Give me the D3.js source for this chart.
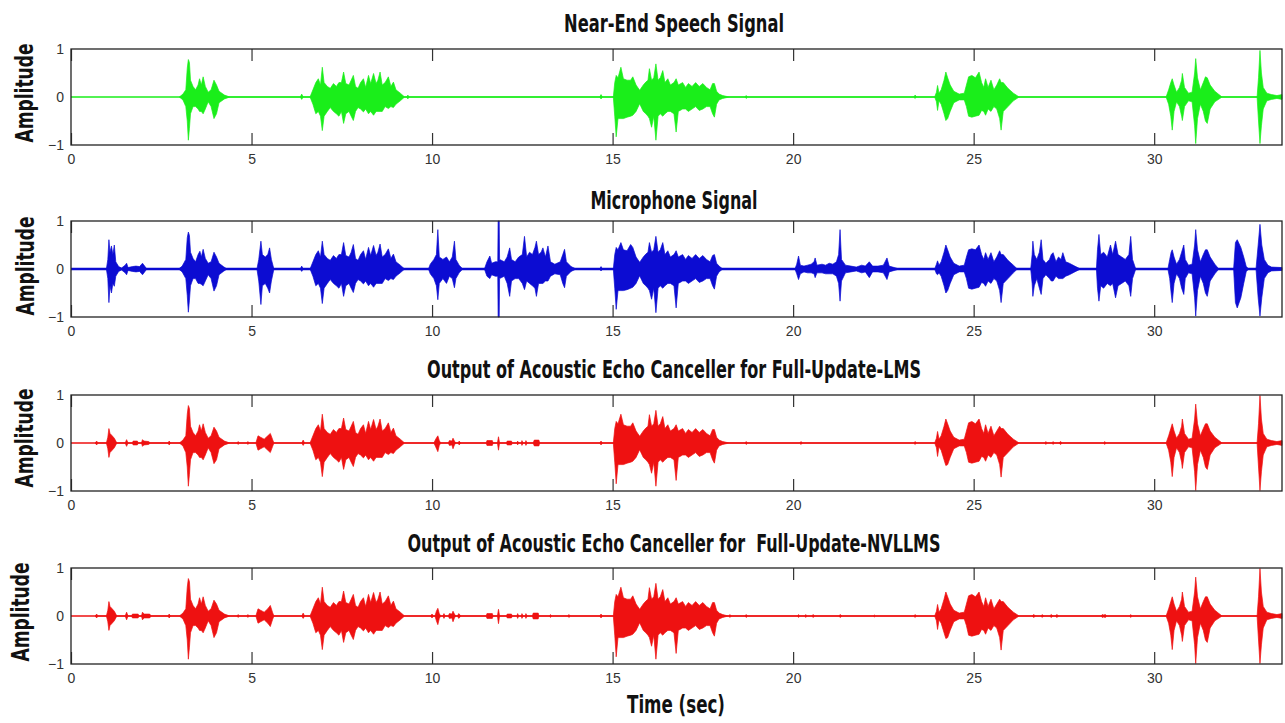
<!DOCTYPE html>
<html>
<head>
<meta charset="utf-8">
<script src="https://cdn.jsdelivr.net/npm/d3@7"></script>
<style>
  body { margin: 0; background: #fff; }
  .title, .ylab, .xlab { font-family: 'Liberation Sans Narrow', 'DejaVu Sans Condensed', 'DejaVu Sans', sans-serif; font-weight: bold; font-stretch: condensed; fill: #111; white-space: pre; }
  .tick line { stroke: #333; stroke-width: 1.2; }
</style>
</head>
<body>
<div id="wrapper"></div>
<script>
// axis ticks and titles
const xTicks = [0, 5, 10, 15, 20, 25, 30];
const yTicks = [-1, 0, 1];
const titles = [
  'Near-End Speech Signal',
  'Microphone Signal',
  'Output of Acoustic Echo Canceller for Full-Update-LMS',
  'Output of Acoustic Echo Canceller for  Full-Update-NVLLMS'
];

// envelopes: [time (s), upper amplitude, lower amplitude (magnitude)]
const nearEnd = [
  [3.00,0,0],[3.10,0.06,0.06],[3.18,0.15,0.2],[3.22,0.6,0.5],[3.25,0.78,0.9],[3.28,0.72,0.65],[3.31,0.35,0.35],[3.38,0.22,0.2],[3.45,0.15,0.2],[3.52,0.25,0.25],[3.56,0.38,0.3],[3.61,0.25,0.3],[3.66,0.42,0.35],[3.72,0.22,0.25],[3.80,0.1,0.1],[3.88,0.15,0.2],[3.96,0.35,0.45],[4.03,0.25,0.35],[4.10,0.12,0.12],[4.25,0.04,0.04],[4.40,0,0],
  [6.35,0,0],[6.39,0.06,0.05],[6.43,0,0],
  [6.62,0,0],[6.70,0.15,0.15],[6.78,0.3,0.35],[6.85,0.38,0.3],[6.91,0.25,0.4],[6.96,0.62,0.7],[7.01,0.3,0.4],[7.10,0.22,0.3],[7.18,0.18,0.22],[7.27,0.28,0.3],[7.35,0.22,0.35],[7.42,0.3,0.4],[7.49,0.3,0.3],[7.55,0.52,0.55],[7.61,0.28,0.35],[7.70,0.25,0.3],[7.76,0.35,0.4],[7.82,0.45,0.49],[7.88,0.22,0.3],[7.95,0.18,0.22],[8.02,0.3,0.25],[8.10,0.38,0.31],[8.16,0.2,0.25],[8.24,0.45,0.35],[8.30,0.28,0.3],[8.38,0.49,0.38],[8.45,0.28,0.3],[8.50,0.35,0.3],[8.56,0.52,0.3],[8.62,0.25,0.3],[8.70,0.3,0.2],[8.79,0.42,0.24],[8.86,0.22,0.2],[8.93,0.31,0.22],[9.00,0.15,0.15],[9.12,0.08,0.08],[9.24,0,0],
  [9.30,0,0],[9.33,0.04,0.04],[9.36,0,0],
  [14.64,0,0],[14.68,0.05,0.04],[14.72,0,0],
  [15.02,0,0],[15.06,0.3,0.4],[15.10,0.45,0.83],[15.15,0.4,0.45],[15.23,0.62,0.45],[15.30,0.38,0.45],[15.40,0.35,0.42],[15.50,0.35,0.4],[15.56,0.42,0.38],[15.65,0.25,0.3],[15.75,0.14,0.14],[15.85,0.25,0.3],[15.92,0.31,0.35],[15.98,0.35,0.4],[16.02,0.59,0.45],[16.08,0.35,0.63],[16.14,0.4,0.4],[16.20,0.69,0.9],[16.26,0.35,0.4],[16.32,0.4,0.35],[16.39,0.55,0.4],[16.45,0.3,0.35],[16.53,0.38,0.3],[16.60,0.25,0.3],[16.70,0.3,0.35],[16.76,0.38,0.73],[16.82,0.25,0.3],[16.94,0.3,0.25],[17.02,0.2,0.25],[17.10,0.28,0.3],[17.20,0.22,0.25],[17.30,0.3,0.2],[17.40,0.22,0.28],[17.50,0.28,0.25],[17.60,0.2,0.2],[17.70,0.15,0.2],[17.77,0.28,0.35],[17.82,0.28,0.42],[17.88,0.12,0.15],[17.95,0.06,0.06],[18.05,0.03,0.03],[18.23,0,0],
  [18.66,0,0],[18.70,0.03,0.03],[18.74,0,0],
  [23.34,0,0],[23.38,0.04,0.03],[23.42,0,0],
  [23.92,0,0],[23.97,0.1,0.1],[24.00,0.24,0.28],[24.04,0.08,0.08],[24.10,0.15,0.15],[24.18,0.35,0.35],[24.23,0.52,0.49],[24.28,0.4,0.45],[24.35,0.25,0.3],[24.45,0.12,0.12],[24.60,0.06,0.06],[24.74,0.08,0.06],[24.80,0.25,0.2],[24.86,0.42,0.4],[24.95,0.45,0.42],[25.05,0.4,0.4],[25.15,0.52,0.38],[25.22,0.3,0.28],[25.28,0.2,0.3],[25.33,0.38,0.38],[25.40,0.2,0.25],[25.48,0.35,0.3],[25.56,0.15,0.2],[25.64,0.25,0.25],[25.72,0.38,0.45],[25.76,0.3,0.69],[25.82,0.3,0.3],[25.95,0.18,0.2],[26.10,0.08,0.08],[26.26,0,0],
  [30.33,0,0],[30.40,0.15,0.15],[30.46,0.3,0.4],[30.50,0.38,0.69],[30.55,0.25,0.3],[30.62,0.1,0.1],[30.70,0.2,0.2],[30.76,0.35,0.4],[30.78,0.49,0.49],[30.84,0.2,0.2],[30.95,0.08,0.08],[31.05,0.1,0.1],[31.12,0.5,0.6],[31.15,0.8,0.97],[31.20,0.4,0.45],[31.28,0.15,0.15],[31.36,0.3,0.3],[31.42,0.42,0.5],[31.47,0.4,0.55],[31.55,0.25,0.25],[31.68,0.12,0.1],[31.88,0,0],
  [32.85,0,0],[32.89,0.4,0.5],[32.93,0.97,0.97],[32.97,0.5,0.6],[33.02,0.2,0.25],[33.12,0.08,0.08],[33.25,0.05,0.05],[33.40,0.03,0.03],[33.54,0.05,0.05]
];

const microphone = [
  [0.98,0,0],[1.02,0.2,0.2],[1.05,0.61,0.7],[1.08,0.35,0.35],[1.12,0.48,0.5],[1.16,0.3,0.3],[1.20,0.5,0.36],[1.24,0.15,0.15],[1.32,0.05,0.05],[1.40,0.02,0.02],[1.50,0.08,0.08],[1.54,0.12,0.12],[1.58,0.03,0.03],[1.70,0.05,0.05],[1.80,0.06,0.06],[1.90,0.05,0.05],[1.98,0.12,0.12],[2.05,0.05,0.05],[2.10,0,0],
  [2.98,0,0],[3.08,0.06,0.06],[3.18,0.2,0.2],[3.22,0.65,0.55],[3.25,0.77,0.9],[3.28,0.7,0.65],[3.31,0.35,0.35],[3.38,0.22,0.2],[3.45,0.15,0.2],[3.52,0.3,0.3],[3.57,0.37,0.3],[3.61,0.25,0.32],[3.66,0.41,0.35],[3.72,0.22,0.25],[3.80,0.12,0.12],[3.88,0.15,0.2],[3.96,0.35,0.46],[4.03,0.25,0.35],[4.10,0.12,0.12],[4.22,0.05,0.05],[4.32,0,0],
  [5.15,0,0],[5.20,0.2,0.25],[5.26,0.58,0.74],[5.30,0.3,0.35],[5.38,0.25,0.3],[5.45,0.3,0.4],[5.50,0.44,0.5],[5.55,0.2,0.25],[5.62,0,0],
  [6.35,0,0],[6.39,0.06,0.05],[6.43,0,0],
  [6.62,0,0],[6.70,0.15,0.15],[6.78,0.3,0.35],[6.85,0.38,0.3],[6.91,0.25,0.4],[6.96,0.58,0.72],[7.01,0.3,0.4],[7.10,0.22,0.3],[7.18,0.18,0.22],[7.27,0.28,0.3],[7.35,0.22,0.35],[7.42,0.3,0.4],[7.49,0.3,0.3],[7.55,0.55,0.57],[7.61,0.28,0.35],[7.70,0.25,0.3],[7.76,0.35,0.4],[7.82,0.51,0.49],[7.88,0.22,0.3],[7.95,0.18,0.22],[8.02,0.3,0.25],[8.10,0.38,0.31],[8.16,0.2,0.25],[8.24,0.45,0.35],[8.30,0.28,0.3],[8.38,0.49,0.38],[8.45,0.28,0.3],[8.50,0.35,0.3],[8.56,0.52,0.3],[8.62,0.25,0.3],[8.70,0.3,0.2],[8.79,0.42,0.24],[8.86,0.22,0.2],[8.93,0.31,0.22],[9.00,0.15,0.15],[9.12,0.08,0.08],[9.24,0,0],
  [9.90,0,0],[9.95,0.1,0.1],[10.05,0.2,0.2],[10.12,0.3,0.35],[10.16,0.82,0.64],[10.20,0.25,0.3],[10.30,0.2,0.2],[10.40,0.25,0.3],[10.48,0.15,0.15],[10.56,0.25,0.2],[10.62,0.58,0.39],[10.66,0.2,0.2],[10.75,0.08,0.08],[10.85,0,0],
  [11.45,0,0],[11.52,0.15,0.15],[11.60,0.27,0.2],[11.65,0.12,0.12],[11.75,0.15,0.15],[11.82,0.15,0.15],[11.83,1,1],[11.86,1,1],[11.87,0.2,0.2],[12.00,0.15,0.15],[12.08,0.25,0.3],[12.15,0.44,0.57],[12.20,0.2,0.25],[12.30,0.15,0.2],[12.40,0.25,0.2],[12.50,0.3,0.3],[12.56,0.68,0.43],[12.62,0.25,0.25],[12.70,0.35,0.3],[12.78,0.3,0.35],[12.85,0.45,0.4],[12.89,0.58,0.57],[12.95,0.3,0.3],[13.02,0.35,0.3],[13.07,0.44,0.3],[13.14,0.25,0.25],[13.21,0.48,0.25],[13.28,0.15,0.15],[13.40,0.1,0.1],[13.55,0.15,0.12],[13.62,0.3,0.3],[13.67,0.41,0.39],[13.72,0.15,0.15],[13.85,0.05,0.05],[13.99,0,0],
  [14.64,0,0],[14.68,0.05,0.04],[14.72,0,0],
  [15.02,0,0],[15.06,0.3,0.4],[15.10,0.45,0.84],[15.15,0.4,0.45],[15.23,0.55,0.45],[15.30,0.4,0.45],[15.40,0.38,0.43],[15.50,0.51,0.4],[15.56,0.45,0.38],[15.65,0.25,0.3],[15.75,0.14,0.14],[15.85,0.25,0.3],[15.92,0.31,0.35],[15.98,0.35,0.4],[16.02,0.55,0.45],[16.08,0.35,0.63],[16.14,0.4,0.4],[16.20,0.68,0.91],[16.26,0.35,0.4],[16.32,0.4,0.35],[16.39,0.55,0.4],[16.45,0.3,0.35],[16.53,0.38,0.3],[16.60,0.25,0.3],[16.70,0.3,0.35],[16.76,0.38,0.81],[16.82,0.25,0.3],[16.94,0.3,0.25],[17.02,0.2,0.25],[17.10,0.28,0.3],[17.20,0.22,0.25],[17.30,0.3,0.2],[17.40,0.22,0.28],[17.50,0.28,0.25],[17.60,0.2,0.2],[17.70,0.15,0.2],[17.77,0.28,0.35],[17.82,0.3,0.42],[17.88,0.12,0.15],[17.95,0.06,0.06],[18.05,0,0],
  [20.05,0,0],[20.10,0.1,0.1],[20.15,0.27,0.22],[20.20,0.08,0.1],[20.30,0.06,0.06],[20.40,0.08,0.08],[20.50,0.1,0.08],[20.58,0.15,0.1],[20.61,0.23,0.18],[20.66,0.08,0.08],[20.80,0.1,0.08],[20.90,0.08,0.1],[21.00,0.12,0.1],[21.10,0.1,0.1],[21.20,0.15,0.15],[21.26,0.3,0.3],[21.30,0.82,0.67],[21.34,0.2,0.25],[21.45,0.08,0.08],[21.60,0.06,0.06],[21.75,0.04,0.04],[21.90,0.08,0.08],[22.00,0.06,0.06],[22.11,0.15,0.18],[22.20,0.06,0.06],[22.35,0.06,0.06],[22.50,0.08,0.08],[22.60,0.23,0.22],[22.66,0.06,0.06],[22.80,0.03,0.03],[22.94,0,0],
  [23.92,0,0],[23.97,0.1,0.1],[24.00,0.17,0.12],[24.04,0.08,0.08],[24.10,0.15,0.15],[24.18,0.35,0.35],[24.23,0.5,0.5],[24.28,0.4,0.45],[24.35,0.25,0.3],[24.45,0.12,0.12],[24.60,0.06,0.06],[24.74,0.08,0.06],[24.80,0.25,0.2],[24.86,0.4,0.4],[24.95,0.42,0.42],[25.05,0.4,0.4],[25.15,0.5,0.38],[25.22,0.3,0.28],[25.28,0.2,0.3],[25.33,0.34,0.36],[25.40,0.2,0.25],[25.48,0.34,0.3],[25.56,0.15,0.2],[25.64,0.25,0.25],[25.72,0.38,0.45],[25.76,0.3,0.7],[25.82,0.3,0.3],[25.95,0.18,0.2],[26.10,0.08,0.08],[26.21,0,0],
  [26.58,0,0],[26.62,0.3,0.3],[26.64,0.58,0.57],[26.68,0.3,0.35],[26.75,0.2,0.2],[26.82,0.35,0.4],[26.87,0.61,0.53],[26.92,0.2,0.2],[27.00,0.12,0.12],[27.10,0.2,0.2],[27.15,0.3,0.25],[27.20,0.34,0.25],[27.28,0.15,0.15],[27.35,0.25,0.2],[27.42,0.2,0.2],[27.47,0.34,0.2],[27.55,0.15,0.15],[27.65,0.12,0.12],[27.80,0.06,0.06],[27.96,0,0],
  [28.40,0,0],[28.43,0.4,0.4],[28.47,0.72,0.67],[28.52,0.3,0.35],[28.60,0.35,0.4],[28.70,0.25,0.3],[28.79,0.5,0.35],[28.85,0.3,0.3],[28.93,0.58,0.6],[29.00,0.3,0.35],[29.10,0.25,0.3],[29.20,0.2,0.25],[29.30,0.3,0.35],[29.35,0.68,0.57],[29.40,0.2,0.2],[29.49,0,0],
  [30.38,0,0],[30.43,0.2,0.2],[30.47,0.35,0.5],[30.50,0.4,0.7],[30.55,0.25,0.3],[30.62,0.1,0.1],[30.70,0.2,0.2],[30.76,0.35,0.4],[30.82,0.5,0.53],[30.86,0.2,0.2],[30.95,0.08,0.08],[31.05,0.1,0.1],[31.12,0.5,0.6],[31.15,0.82,0.98],[31.20,0.4,0.45],[31.28,0.15,0.15],[31.36,0.3,0.3],[31.42,0.4,0.5],[31.47,0.4,0.57],[31.55,0.25,0.25],[31.68,0.1,0.1],[31.79,0,0],
  [32.20,0,0],[32.25,0.55,0.7],[32.30,0.61,0.81],[32.40,0.45,0.6],[32.48,0.25,0.3],[32.55,0.05,0.05],[32.62,0,0],
  [32.82,0,0],[32.88,0.5,0.6],[32.93,0.93,0.98],[32.98,0.5,0.6],[33.05,0.2,0.2],[33.15,0.08,0.08],[33.25,0.04,0.04],[33.54,0.03,0.03]
];

const outputLMS = [
  [0.67,0,0],[0.71,0.04,0.04],[0.75,0,0],
  [0.98,0,0],[1.02,0.12,0.12],[1.05,0.3,0.3],[1.08,0.2,0.2],[1.14,0.15,0.15],[1.20,0.1,0.1],[1.27,0,0],
  [1.50,0,0],[1.54,0.07,0.07],[1.58,0,0],[1.70,0,0],[1.72,0.04,0.04],[1.84,0.04,0.04],[1.86,0,0],[1.95,0,0],[1.98,0.07,0.07],[2.02,0.04,0.04],[2.15,0.03,0.03],[2.20,0,0],
  [2.68,0,0],[2.72,0.04,0.04],[2.76,0,0],
  [3.00,0,0],[3.10,0.06,0.06],[3.18,0.15,0.2],[3.22,0.6,0.5],[3.25,0.78,0.9],[3.28,0.72,0.65],[3.31,0.35,0.35],[3.38,0.22,0.2],[3.45,0.15,0.2],[3.52,0.25,0.25],[3.56,0.38,0.3],[3.61,0.25,0.3],[3.66,0.4,0.35],[3.72,0.22,0.25],[3.80,0.1,0.1],[3.88,0.15,0.2],[3.96,0.33,0.43],[4.03,0.25,0.35],[4.10,0.12,0.12],[4.25,0.04,0.04],[4.40,0,0],
  [4.60,0,0],[4.63,0.03,0.03],[4.66,0,0],[4.87,0,0],[4.90,0.03,0.03],[4.93,0,0],
  [5.12,0,0],[5.18,0.15,0.15],[5.25,0.12,0.12],[5.35,0.08,0.08],[5.45,0.15,0.15],[5.52,0.2,0.2],[5.58,0.08,0.08],[5.62,0,0],
  [6.39,0,0],[6.43,0.06,0.05],[6.47,0,0],
  [6.62,0,0],[6.70,0.15,0.15],[6.78,0.3,0.35],[6.85,0.38,0.3],[6.91,0.25,0.4],[6.96,0.6,0.7],[7.01,0.3,0.4],[7.10,0.22,0.3],[7.18,0.18,0.22],[7.27,0.28,0.3],[7.35,0.22,0.35],[7.42,0.3,0.4],[7.49,0.3,0.3],[7.55,0.52,0.55],[7.61,0.28,0.35],[7.70,0.25,0.3],[7.76,0.35,0.4],[7.82,0.45,0.49],[7.88,0.22,0.3],[7.95,0.18,0.22],[8.02,0.3,0.25],[8.10,0.38,0.31],[8.16,0.2,0.25],[8.24,0.45,0.35],[8.30,0.28,0.3],[8.38,0.49,0.38],[8.45,0.28,0.3],[8.50,0.35,0.3],[8.56,0.5,0.3],[8.62,0.25,0.3],[8.70,0.3,0.2],[8.79,0.42,0.24],[8.86,0.22,0.2],[8.93,0.31,0.22],[9.00,0.15,0.15],[9.12,0.08,0.08],[9.24,0,0],
  [10.05,0,0],[10.10,0.08,0.08],[10.16,0.15,0.18],[10.20,0.05,0.05],[10.24,0,0],[10.45,0,0],[10.48,0.05,0.05],[10.55,0.04,0.04],[10.58,0.1,0.12],[10.62,0.04,0.04],[10.66,0,0],[10.72,0,0],[10.75,0.04,0.04],[10.80,0,0],
  [11.50,0,0],[11.52,0.05,0.05],[11.67,0.05,0.05],[11.69,0,0],[11.81,0,0],[11.84,0.13,0.15],[11.87,0,0],[12.06,0,0],[12.08,0.04,0.04],[12.20,0.04,0.04],[12.22,0,0],[12.35,0,0],[12.37,0.04,0.04],[12.40,0,0],[12.47,0,0],[12.49,0.05,0.05],[12.52,0,0],[12.58,0,0],[12.60,0.05,0.05],[12.63,0,0],[12.80,0,0],[12.83,0.06,0.06],[12.96,0.06,0.06],[12.98,0,0],
  [14.64,0,0],[14.68,0.04,0.04],[14.72,0,0],
  [15.02,0,0],[15.06,0.3,0.4],[15.10,0.45,0.85],[15.15,0.4,0.45],[15.23,0.6,0.45],[15.30,0.38,0.45],[15.40,0.35,0.42],[15.50,0.35,0.4],[15.56,0.42,0.38],[15.65,0.25,0.3],[15.75,0.14,0.14],[15.85,0.25,0.3],[15.92,0.31,0.35],[15.98,0.35,0.4],[16.02,0.59,0.45],[16.08,0.35,0.63],[16.14,0.4,0.4],[16.20,0.68,0.9],[16.26,0.35,0.4],[16.32,0.4,0.35],[16.39,0.55,0.4],[16.45,0.3,0.35],[16.53,0.38,0.3],[16.60,0.25,0.3],[16.70,0.3,0.35],[16.76,0.38,0.78],[16.82,0.25,0.3],[16.94,0.3,0.25],[17.02,0.2,0.25],[17.10,0.28,0.3],[17.20,0.22,0.25],[17.30,0.3,0.2],[17.40,0.22,0.28],[17.50,0.28,0.25],[17.60,0.2,0.2],[17.70,0.15,0.2],[17.77,0.28,0.35],[17.82,0.28,0.42],[17.88,0.12,0.15],[17.95,0.06,0.06],[18.05,0.03,0.03],[18.23,0,0],
  [18.66,0,0],[18.70,0.03,0.03],[18.74,0,0],[20.18,0,0],[20.22,0.03,0.03],[20.26,0,0],
  [23.34,0,0],[23.38,0.03,0.03],[23.42,0,0],
  [23.92,0,0],[23.97,0.1,0.1],[24.00,0.24,0.28],[24.04,0.08,0.08],[24.10,0.15,0.15],[24.18,0.35,0.35],[24.23,0.5,0.47],[24.28,0.4,0.45],[24.35,0.25,0.3],[24.45,0.12,0.12],[24.60,0.06,0.06],[24.74,0.08,0.06],[24.80,0.25,0.2],[24.86,0.42,0.4],[24.95,0.45,0.42],[25.05,0.4,0.4],[25.15,0.5,0.38],[25.22,0.3,0.28],[25.28,0.2,0.3],[25.33,0.38,0.38],[25.40,0.2,0.25],[25.48,0.35,0.3],[25.56,0.15,0.2],[25.64,0.25,0.25],[25.72,0.35,0.45],[25.76,0.3,0.71],[25.82,0.3,0.3],[25.95,0.18,0.2],[26.10,0.08,0.08],[26.26,0,0],
  [26.98,0,0],[27.00,0.03,0.03],[27.03,0,0],[27.18,0,0],[27.20,0.03,0.03],[27.23,0,0],[27.36,0,0],[27.40,0.03,0.03],[27.46,0,0],
  [28.60,0,0],[28.63,0.03,0.03],[28.66,0,0],
  [30.33,0,0],[30.40,0.15,0.15],[30.46,0.3,0.4],[30.50,0.4,0.7],[30.55,0.25,0.3],[30.62,0.1,0.1],[30.70,0.2,0.2],[30.76,0.35,0.4],[30.78,0.5,0.53],[30.84,0.2,0.2],[30.95,0.08,0.08],[31.05,0.1,0.1],[31.12,0.5,0.6],[31.15,0.81,0.99],[31.20,0.4,0.45],[31.28,0.15,0.15],[31.36,0.3,0.3],[31.42,0.4,0.5],[31.47,0.4,0.55],[31.55,0.25,0.25],[31.68,0.12,0.1],[31.88,0,0],
  [32.85,0,0],[32.89,0.4,0.5],[32.93,0.99,0.99],[32.97,0.5,0.6],[33.02,0.2,0.25],[33.12,0.08,0.08],[33.25,0.05,0.05],[33.40,0.03,0.03],[33.54,0.05,0.05]
];

const outputNVLLMS = [
  [0.67,0,0],[0.71,0.04,0.04],[0.75,0,0],
  [0.98,0,0],[1.02,0.12,0.12],[1.05,0.3,0.3],[1.08,0.2,0.2],[1.14,0.15,0.15],[1.20,0.1,0.1],[1.27,0,0],
  [1.50,0,0],[1.54,0.08,0.08],[1.58,0,0],[1.68,0,0],[1.70,0.04,0.04],[1.86,0.04,0.04],[1.88,0,0],[1.95,0,0],[1.98,0.08,0.08],[2.02,0.04,0.04],[2.18,0.04,0.04],[2.22,0,0],
  [2.68,0,0],[2.72,0.04,0.04],[2.76,0,0],
  [3.00,0,0],[3.10,0.06,0.06],[3.18,0.15,0.2],[3.22,0.6,0.5],[3.25,0.78,0.9],[3.28,0.72,0.65],[3.31,0.35,0.35],[3.38,0.22,0.2],[3.45,0.15,0.2],[3.52,0.25,0.25],[3.56,0.38,0.3],[3.61,0.25,0.3],[3.66,0.4,0.35],[3.72,0.22,0.25],[3.80,0.1,0.1],[3.88,0.15,0.2],[3.96,0.33,0.45],[4.03,0.25,0.35],[4.10,0.12,0.12],[4.25,0.04,0.04],[4.40,0,0],
  [4.60,0,0],[4.63,0.03,0.03],[4.66,0,0],[4.87,0,0],[4.90,0.03,0.03],[4.93,0,0],
  [5.12,0,0],[5.18,0.15,0.15],[5.25,0.12,0.12],[5.35,0.08,0.08],[5.45,0.15,0.15],[5.52,0.22,0.22],[5.58,0.08,0.08],[5.62,0,0],
  [6.39,0,0],[6.43,0.06,0.05],[6.47,0,0],
  [6.62,0,0],[6.70,0.15,0.15],[6.78,0.3,0.35],[6.85,0.38,0.3],[6.91,0.25,0.4],[6.96,0.6,0.7],[7.01,0.3,0.4],[7.10,0.22,0.3],[7.18,0.18,0.22],[7.27,0.28,0.3],[7.35,0.22,0.35],[7.42,0.3,0.4],[7.49,0.3,0.3],[7.55,0.52,0.55],[7.61,0.28,0.35],[7.70,0.25,0.3],[7.76,0.35,0.4],[7.82,0.45,0.49],[7.88,0.22,0.3],[7.95,0.18,0.22],[8.02,0.3,0.25],[8.10,0.38,0.31],[8.16,0.2,0.25],[8.24,0.45,0.35],[8.30,0.28,0.3],[8.38,0.49,0.38],[8.45,0.28,0.3],[8.50,0.35,0.3],[8.56,0.5,0.3],[8.62,0.25,0.3],[8.70,0.3,0.2],[8.79,0.42,0.24],[8.86,0.22,0.2],[8.93,0.31,0.22],[9.00,0.15,0.15],[9.12,0.08,0.08],[9.24,0,0],
  [9.95,0,0],[10.00,0.04,0.04],[10.04,0,0],[10.08,0,0],[10.12,0.1,0.1],[10.16,0.16,0.18],[10.20,0.05,0.05],[10.24,0,0],[10.30,0,0],[10.33,0.05,0.05],[10.36,0,0],[10.45,0,0],[10.48,0.05,0.05],[10.55,0.04,0.04],[10.58,0.1,0.12],[10.62,0.04,0.04],[10.66,0,0],[10.70,0,0],[10.74,0.05,0.05],[10.80,0,0],
  [11.50,0,0],[11.52,0.05,0.05],[11.67,0.05,0.05],[11.69,0,0],[11.81,0,0],[11.84,0.14,0.16],[11.87,0,0],[12.06,0,0],[12.08,0.04,0.04],[12.20,0.04,0.04],[12.22,0,0],[12.35,0,0],[12.37,0.05,0.05],[12.40,0,0],[12.47,0,0],[12.49,0.05,0.05],[12.52,0,0],[12.58,0,0],[12.60,0.05,0.05],[12.63,0,0],[12.78,0,0],[12.80,0.06,0.06],[12.94,0.06,0.06],[12.96,0,0],
  [13.25,0,0],[13.28,0.03,0.03],[13.31,0,0],[13.75,0,0],[13.79,0.03,0.03],[13.83,0,0],
  [14.64,0,0],[14.68,0.04,0.04],[14.72,0,0],
  [15.02,0,0],[15.06,0.3,0.4],[15.10,0.45,0.85],[15.15,0.4,0.45],[15.23,0.6,0.45],[15.30,0.38,0.45],[15.40,0.35,0.42],[15.50,0.35,0.4],[15.56,0.42,0.38],[15.65,0.25,0.3],[15.75,0.14,0.14],[15.85,0.25,0.3],[15.92,0.31,0.35],[15.98,0.35,0.4],[16.02,0.59,0.45],[16.08,0.35,0.63],[16.14,0.4,0.4],[16.20,0.68,0.9],[16.26,0.35,0.4],[16.32,0.4,0.35],[16.39,0.55,0.4],[16.45,0.3,0.35],[16.53,0.38,0.3],[16.60,0.25,0.3],[16.70,0.3,0.35],[16.76,0.38,0.78],[16.82,0.25,0.3],[16.94,0.3,0.25],[17.02,0.2,0.25],[17.10,0.28,0.3],[17.20,0.22,0.25],[17.30,0.3,0.2],[17.40,0.22,0.28],[17.50,0.28,0.25],[17.60,0.2,0.2],[17.70,0.15,0.2],[17.77,0.28,0.35],[17.82,0.28,0.42],[17.88,0.12,0.15],[17.95,0.06,0.06],[18.05,0.03,0.03],[18.20,0,0],
  [18.22,0,0],[18.25,0.03,0.03],[18.28,0,0],[18.66,0,0],[18.70,0.03,0.03],[18.74,0,0],
  [20.12,0,0],[20.15,0.03,0.03],[20.18,0,0],[20.32,0,0],[20.35,0.03,0.03],[20.38,0,0],[20.52,0,0],[20.55,0.03,0.03],[20.60,0,0],[21.26,0,0],[21.30,0.03,0.03],[21.36,0,0],
  [22.22,0,0],[22.25,0.02,0.02],[22.28,0,0],[23.34,0,0],[23.38,0.03,0.03],[23.42,0,0],
  [23.92,0,0],[23.97,0.1,0.1],[24.00,0.24,0.28],[24.04,0.08,0.08],[24.10,0.15,0.15],[24.18,0.35,0.35],[24.23,0.5,0.47],[24.28,0.4,0.45],[24.35,0.25,0.3],[24.45,0.12,0.12],[24.60,0.06,0.06],[24.74,0.08,0.06],[24.80,0.25,0.2],[24.86,0.42,0.4],[24.95,0.45,0.42],[25.05,0.4,0.4],[25.15,0.5,0.38],[25.22,0.3,0.28],[25.28,0.2,0.3],[25.33,0.38,0.38],[25.40,0.2,0.25],[25.48,0.35,0.3],[25.56,0.15,0.2],[25.64,0.25,0.25],[25.72,0.35,0.45],[25.76,0.3,0.71],[25.82,0.3,0.3],[25.95,0.18,0.2],[26.10,0.08,0.08],[26.26,0,0],
  [26.62,0,0],[26.66,0.03,0.03],[26.72,0,0],[26.86,0,0],[26.90,0.03,0.03],[26.94,0,0],[27.10,0,0],[27.15,0.03,0.03],[27.20,0,0],[27.26,0,0],[27.30,0.03,0.03],[27.36,0,0],
  [28.53,0,0],[28.56,0.03,0.03],[28.60,0.02,0.02],[28.65,0.03,0.03],[28.68,0,0],[29.32,0,0],[29.35,0.03,0.03],[29.38,0,0],
  [30.33,0,0],[30.40,0.15,0.15],[30.46,0.3,0.4],[30.50,0.4,0.7],[30.55,0.25,0.3],[30.62,0.1,0.1],[30.70,0.2,0.2],[30.76,0.35,0.4],[30.78,0.5,0.53],[30.84,0.2,0.2],[30.95,0.08,0.08],[31.05,0.1,0.1],[31.12,0.5,0.6],[31.15,0.81,0.99],[31.20,0.4,0.45],[31.28,0.15,0.15],[31.36,0.3,0.3],[31.42,0.4,0.5],[31.47,0.4,0.55],[31.55,0.25,0.25],[31.68,0.12,0.1],[31.88,0,0],
  [32.85,0,0],[32.89,0.4,0.5],[32.93,0.99,0.99],[32.97,0.5,0.6],[33.02,0.2,0.25],[33.12,0.08,0.08],[33.25,0.05,0.05],[33.40,0.03,0.03],[33.54,0.05,0.05]
];

const signals = [nearEnd, microphone, outputLMS, outputNVLLMS];
const colors = ['#1aee1a', '#0c0cd2', '#ee1111', '#ee1111'];
const zeroWidth = [1.5, 2.6, 1.3, 1.3];

// layout
const width = 1285, height = 723;
const left = 71, right = 1282, panelH = 96;
const panelTop = [49, 221, 395, 568];
const titleY = [32, 209, 378, 552];
const titleLen = [220, 167, 494, 533];
const ylabX = [33, 34, 33, 29];
const ylabY = [93, 266, 438, 612];

const svg = d3.select('#wrapper').append('svg').attr('width', width).attr('height', height);

const x = d3.scaleLinear().domain([0, 33.54]).range([left, right]);

const tickText = (sel) => sel.selectAll('text')
  .attr('font-family', "'Liberation Sans', 'DejaVu Sans', sans-serif")
  .attr('font-size', 14)
  .attr('fill', '#333');

signals.forEach((data, i) => {
  const top = panelTop[i];
  const y = d3.scaleLinear().domain([-1, 1]).range([top + panelH, top]);
  const g = svg.append('g');

  // zero line
  g.append('line')
    .attr('x1', x(0)).attr('x2', x(33.54))
    .attr('y1', y(0)).attr('y2', y(0))
    .attr('stroke', colors[i])
    .attr('stroke-width', zeroWidth[i]);

  const area = d3.area()
    .x((d) => x(d[0]))
    .y0((d) => y(-d[2]))
    .y1((d) => y(d[1]));

  g.append('path')
    .datum(data)
    .attr('d', area)
    .attr('fill', colors[i])
    .attr('stroke', colors[i])
    .attr('stroke-width', 0.7)
    .attr('stroke-linejoin', 'round');

  // axes with inward ticks
  g.append('g')
    .attr('transform', `translate(0,${top + panelH})`)
    .call(d3.axisBottom(x).tickValues(xTicks).tickFormat(d3.format('d')).tickSizeInner(-12).tickSizeOuter(0).tickPadding(9))
    .call((a) => a.select('.domain').remove())
    .call(tickText);
  g.append('g')
    .attr('transform', `translate(0,${top})`)
    .call(d3.axisTop(x).tickValues(xTicks).tickFormat('').tickSizeInner(-12).tickSizeOuter(0))
    .call((a) => a.select('.domain').remove());
  g.append('g')
    .attr('transform', `translate(${left},0)`)
    .call(d3.axisLeft(y).tickValues(yTicks).tickFormat(d3.format('d')).tickSizeInner(0).tickSizeOuter(0).tickPadding(7))
    .call((a) => a.select('.domain').remove())
    .call(tickText);

  g.append('rect')
    .attr('x', left).attr('y', top)
    .attr('width', right - left).attr('height', panelH)
    .attr('fill', 'none')
    .attr('stroke', '#222')
    .attr('stroke-width', 1.3);

  svg.append('text')
    .attr('class', 'title')
    .attr('x', 674).attr('y', titleY[i])
    .attr('text-anchor', 'middle')
    .attr('font-size', 25)
    .attr('textLength', titleLen[i])
    .attr('lengthAdjust', 'spacingAndGlyphs')
    .text(titles[i]);

  svg.append('text')
    .attr('class', 'ylab')
    .attr('transform', `translate(${ylabX[i]},${ylabY[i]}) rotate(-90)`)
    .attr('text-anchor', 'middle')
    .attr('font-size', 25)
    .attr('textLength', 99)
    .attr('lengthAdjust', 'spacingAndGlyphs')
    .text('Amplitude');
});

svg.append('text')
  .attr('class', 'xlab')
  .attr('x', 676).attr('y', 713)
  .attr('text-anchor', 'middle')
  .attr('font-size', 25)
  .attr('textLength', 98)
  .attr('lengthAdjust', 'spacingAndGlyphs')
  .text('Time (sec)');
</script>
</body>
</html>
